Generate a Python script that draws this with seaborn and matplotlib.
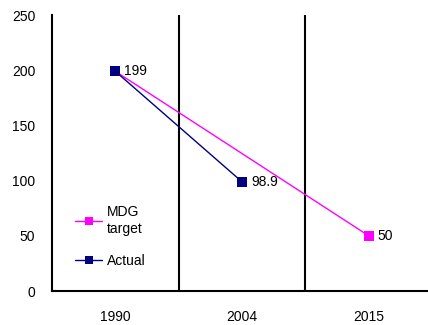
import matplotlib
matplotlib.use("Agg")
import matplotlib.pyplot as plt
import seaborn as sns
import pandas as pd

# Chart data
years = ["1990", "2004", "2015"]
mdg_years = ["1990", "2015"]
mdg_values = [199, 50]
actual_years = ["1990", "2004"]
actual_values = [199, 98.9]
series_names = ["MDG\ntarget", "Actual"]
y_ticks = [0, 50, 100, 150, 200, 250]

pos = {y: i for i, y in enumerate(years)}
df = pd.concat([
    pd.DataFrame({"x": [pos[y] for y in mdg_years], "value": mdg_values, "series": series_names[0]}),
    pd.DataFrame({"x": [pos[y] for y in actual_years], "value": actual_values, "series": series_names[1]}),
], ignore_index=True)

sns.set_theme(style="white")
plt.rcParams["font.family"] = ["Liberation Sans", "DejaVu Sans"]
plt.rcParams.update({"text.color": "black", "xtick.color": "black",
                     "ytick.color": "black", "axes.labelcolor": "black"})
FS = 10

fig = plt.figure(figsize=(4.28, 3.25), dpi=100)
ax = fig.add_axes([0.1215, 0.1046, 0.888, 0.8492])

palette = {series_names[0]: "#FF00FF", series_names[1]: "#000080"}
sns.lineplot(data=df, x="x", y="value", hue="series", palette=palette,
             style="series", markers={series_names[0]: "s", series_names[1]: "s"},
             dashes=False, markersize=7, markeredgewidth=0, linewidth=1.0,
             ax=ax, legend=True)

# Category separators
for b in [0.5, 1.5]:
    ax.axvline(b, color="black", linewidth=1.5, zorder=0)

# Value labels
labels = [(pos["1990"], 199, "199"), (pos["2004"], 98.9, "98.9"), (pos["2015"], 50, "50")]
for x, v, t in labels:
    ax.text(x + 0.07, v, t, va="center", ha="left", fontsize=FS, color="black")

ax.set_xlim(-0.5, 2.5)
ax.set_ylim(0, 250)
ax.set_xticks(range(len(years)))
ax.set_xticklabels(years, fontsize=FS)
ax.set_yticks(y_ticks)
ax.set_yticklabels([str(t) for t in y_ticks], fontsize=FS)
ax.set_xlabel("")
ax.set_ylabel("")
ax.tick_params(axis="y", direction="out", length=4, width=1, colors="black", pad=8)
ax.tick_params(axis="x", direction="in", length=2, width=1, colors="black", pad=14)
for s in ["top", "right"]:
    ax.spines[s].set_visible(False)
for s in ["left", "bottom"]:
    ax.spines[s].set_color("black")
    ax.spines[s].set_linewidth(1.5)

leg = ax.legend(loc="upper left", bbox_to_anchor=(0.045, 0.33), frameon=False,
                fontsize=FS, handlelength=2.0, handletextpad=0.3, labelspacing=1.3,
                borderaxespad=0)
for h in leg.legend_handles:
    h.set_markersize(6)
for t in leg.get_texts():
    t.set_color("black")

fig.savefig("out.png", dpi=100)
